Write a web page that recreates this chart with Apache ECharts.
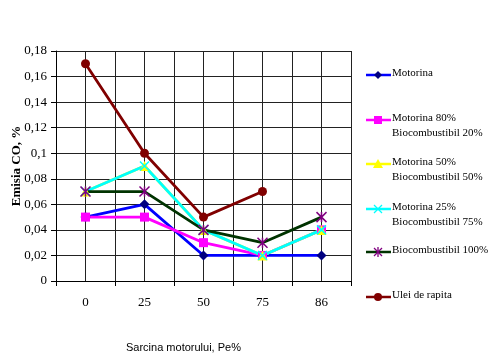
<!DOCTYPE html>
<html><head><meta charset="utf-8">
<script src="https://cdn.jsdelivr.net/npm/echarts@6/dist/echarts.min.js"></script>
<style>html,body{margin:0;padding:0;background:#fff}#c{width:489px;height:353px}</style>
</head><body><div id="c"></div>
<script>
const categories = ['0','25','50','75','86'];
const motorina = [0.05, 0.06, 0.02, 0.02, 0.02];
const m80b20 = [0.05, 0.05, 0.03, 0.02, 0.04];
const m50b50 = [0.07, 0.09, 0.04, 0.02, 0.04];
const m25b75 = [0.07, 0.09, 0.04, 0.02, 0.04];
const bio100 = [0.07, 0.07, 0.04, 0.03, 0.05];
const ulei = [0.17, 0.10, 0.05, 0.07, null];
const yTicks = {min: 0, max: 0.18, interval: 0.02};

const serif = "'Liberation Serif','Times New Roman',serif";
const xPath = 'path://M0,0L10,10M10,0L0,10';
const starPath = 'path://M0,0L10,10M10,0L0,10M5,0L5,10';

function mk(name, data, lineColor, symbol, symColor, size, strokeOnly) {
  return {
    name, type: 'line', data, xAxisIndex: 1, yAxisIndex: 0,
    symbol, symbolSize: size, showSymbol: true, connectNulls: false,
    lineStyle: {color: lineColor, width: 2.8},
    itemStyle: strokeOnly ? {color: symColor, borderColor: symColor, borderWidth: 1.5}
                          : {color: symColor, borderWidth: 0},
    emphasis: {disabled: true}
  };
}

const chart = echarts.init(document.getElementById('c'), null, {renderer: 'canvas'});

const legendItems = [
  {lines: ['Motorina'], y: 75, line: '#0000FF', kind: 'diamond', c: '#000080'},
  {lines: ['Motorina 80%', 'Biocombustibil 20%'], y: 120, line: '#FF00FF', kind: 'square', c: '#FF00FF'},
  {lines: ['Motorina 50%', 'Biocombustibil 50%'], y: 164, line: '#FFFF00', kind: 'triangle', c: '#FFFF00'},
  {lines: ['Motorina 25%', 'Biocombustibil 75%'], y: 209, line: '#00FFFF', kind: 'x', c: '#00FFFF'},
  {lines: ['Biocombustibil 100%'], y: 252, line: '#003300', kind: 'star', c: '#800080'},
  {lines: ['Ulei de rapita'], y: 297, line: '#800000', kind: 'circle', c: '#800000'}
];
const g = [];
legendItems.forEach(it => {
  const cx = 378, cy = it.y;
  g.push({type: 'line', shape: {x1: 366, y1: cy, x2: 391, y2: cy}, style: {stroke: it.line, lineWidth: 2.5}});
  if (it.kind === 'diamond') g.push({type: 'polygon', shape: {points: [[cx, cy-4],[cx+4, cy],[cx, cy+4],[cx-4, cy]]}, style: {fill: it.c}});
  if (it.kind === 'square') g.push({type: 'rect', shape: {x: cx-4, y: cy-4, width: 8, height: 8}, style: {fill: it.c}});
  if (it.kind === 'triangle') g.push({type: 'polygon', shape: {points: [[cx, cy-5],[cx+5, cy+4],[cx-5, cy+4]]}, style: {fill: it.c}});
  if (it.kind === 'circle') g.push({type: 'circle', shape: {cx, cy, r: 4}, style: {fill: it.c}});
  if (it.kind === 'x' || it.kind === 'star') {
    g.push({type: 'line', shape: {x1: cx-4, y1: cy-4, x2: cx+4, y2: cy+4}, style: {stroke: it.c, lineWidth: 1.3}});
    g.push({type: 'line', shape: {x1: cx+4, y1: cy-4, x2: cx-4, y2: cy+4}, style: {stroke: it.c, lineWidth: 1.3}});
    if (it.kind === 'star') g.push({type: 'line', shape: {x1: cx, y1: cy-5, x2: cx, y2: cy+5}, style: {stroke: it.c, lineWidth: 1.3}});
  }
  it.lines.forEach((t, i) => {
    g.push({type: 'text', left: 392, top: cy - 7 + i * 15,
      style: {text: t, font: "11px " + serif, fill: '#000'}});
  });
});
g.push({type: 'text', left: 126, top: 342,
  style: {text: 'Sarcina motorului, Pe%', font: "11px 'Liberation Sans', Arial, sans-serif", fill: '#000'}});

chart.setOption({
  animation: false,
  backgroundColor: '#fff',
  grid: {left: 56, right: 138, top: 51, bottom: 72, containLabel: false, outerBoundsMode: 'none'},
  xAxis: [
    {type: 'value', min: 0, max: 10, interval: 1, position: 'top',
      axisLine: {show: false}, axisTick: {show: false}, axisLabel: {show: false},
      splitLine: {show: true, lineStyle: {color: '#222', width: 1}}},
    {type: 'category', data: categories, boundaryGap: true, position: 'bottom',
      axisLine: {show: true, lineStyle: {color: '#000', width: 1}},
      axisTick: {show: true, length: 5, inside: false, lineStyle: {color: '#000'}},
      axisLabel: {margin: 15, fontFamily: serif, fontSize: 13, color: '#000'},
      splitLine: {show: false}}
  ],
  yAxis: [{type: 'value', min: yTicks.min, max: yTicks.max, interval: yTicks.interval,
    name: 'Emisia CO, %', nameLocation: 'middle', nameGap: 33, nameMoveOverlap: false,
    nameTextStyle: {fontFamily: serif, fontSize: 13, fontWeight: 'bold', color: '#000'},
    axisLine: {show: true, lineStyle: {color: '#000', width: 1}},
    axisTick: {show: true, length: 5, lineStyle: {color: '#000'}},
    axisLabel: {margin: 9, fontFamily: serif, fontSize: 13, color: '#000',
      formatter: v => String(+v.toFixed(2)).replace('.', ',')},
    splitLine: {show: true, lineStyle: {color: '#222', width: 1}}}],
  series: [
    mk('Motorina', motorina, '#0000FF', 'diamond', '#000080', 10, false),
    mk('Motorina 80% Biocombustibil 20%', m80b20, '#FF00FF', 'rect', '#FF00FF', 9, false),
    mk('Motorina 50% Biocombustibil 50%', m50b50, '#FFFF00', 'triangle', '#FFFF00', 10, false),
    mk('Motorina 25% Biocombustibil 75%', m25b75, '#00FFFF', xPath, '#00FFFF', 9, true),
    mk('Biocombustibil 100%', bio100, '#003300', starPath, '#800080', 10, true),
    mk('Ulei de rapita', ulei, '#800000', 'circle', '#800000', 9, false)
  ],
  graphic: g
});
</script></body></html>
